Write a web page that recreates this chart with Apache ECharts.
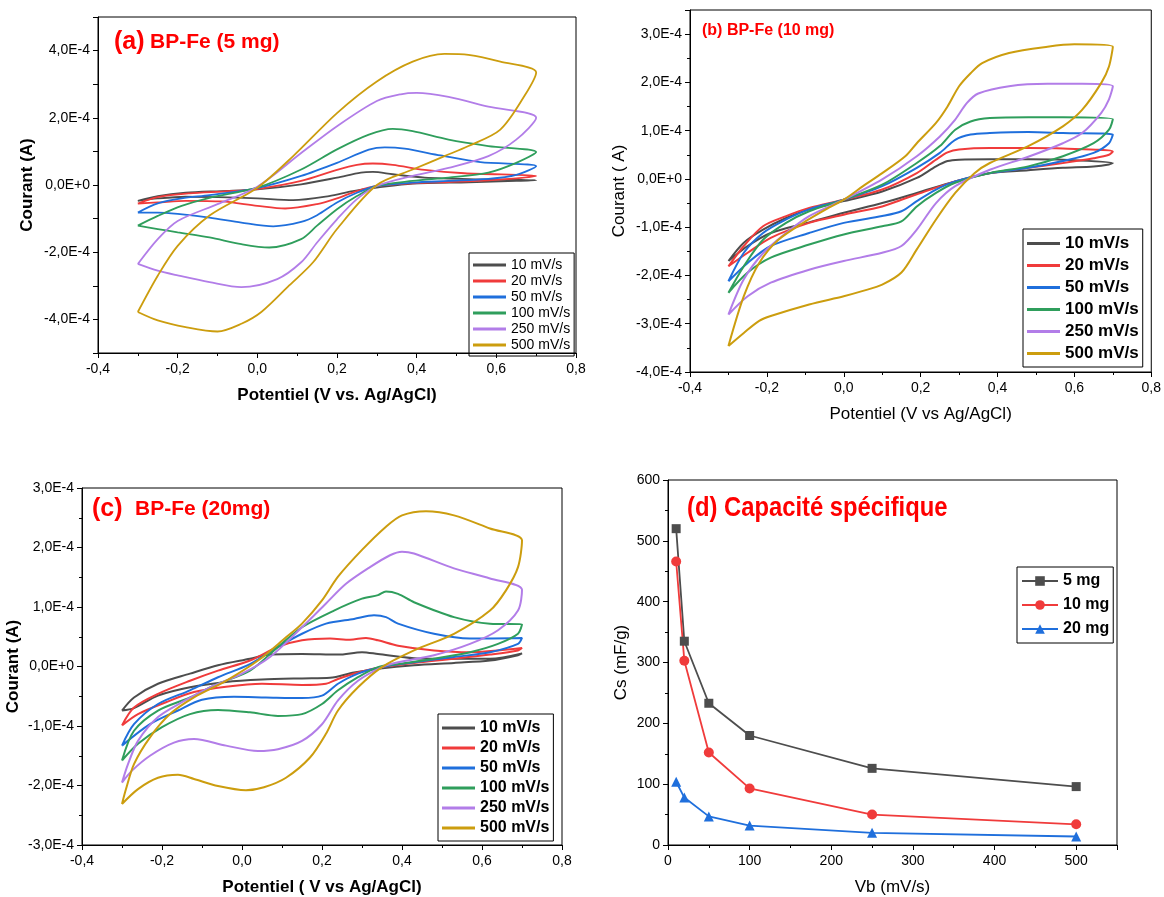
<!DOCTYPE html>
<html>
<head>
<meta charset="utf-8">
<script src="https://cdn.jsdelivr.net/npm/echarts@6/dist/echarts.min.js"></script>
<style>
html, body { margin: 0; padding: 0; background: #fff; }
#chart { width: 1164px; height: 897px; }
</style>
</head>
<body>
<div id="chart"></div>
<script>
// legend names and colours of the scan rates
const rates = ['10 mV/s', '20 mV/s', '50 mV/s', '100 mV/s', '250 mV/s', '500 mV/s']
const rateColors = ['#4d4d4d', '#f03b3b', '#1f6fdc', '#2f9e5c', '#b27de8', '#cc9d0e']

// CV loops: [potential (V vs Ag/AgCl), current in 1E-4 A]
// (a) BP-Fe 5 mg
const a10 = [[-0.30,-0.47],[-0.25,-0.33],[-0.18,-0.23],[-0.09,-0.18],[0.0,-0.13],[0.11,0.02],[0.2,0.22],[0.26,0.37],[0.29,0.39],[0.34,0.32],[0.42,0.22],[0.56,0.17],[0.70,0.14],
  [0.65,0.12],[0.53,0.08],[0.39,0.04],[0.30,-0.08],[0.24,-0.18],[0.18,-0.33],[0.09,-0.45],[0.0,-0.40],[-0.10,-0.36],[-0.18,-0.35],[-0.25,-0.40],[-0.30,-0.47]]
const a20 = [[-0.30,-0.55],[-0.25,-0.36],[-0.17,-0.25],[-0.08,-0.19],[0.0,-0.12],[0.11,0.12],[0.2,0.45],[0.25,0.60],[0.29,0.64],[0.34,0.60],[0.42,0.45],[0.52,0.35],[0.70,0.27],
  [0.65,0.20],[0.58,0.14],[0.48,0.09],[0.39,0.05],[0.30,-0.03],[0.25,-0.18],[0.20,-0.40],[0.15,-0.57],[0.07,-0.70],[0.0,-0.62],[-0.09,-0.49],[-0.18,-0.47],[-0.25,-0.52],[-0.30,-0.55]]
const a50 = [[-0.30,-0.82],[-0.25,-0.55],[-0.19,-0.40],[-0.12,-0.30],[0.0,-0.09],[0.11,0.27],[0.2,0.66],[0.28,1.05],[0.32,1.12],[0.37,1.08],[0.46,0.88],[0.56,0.68],[0.70,0.56],
  [0.65,0.30],[0.58,0.18],[0.48,0.12],[0.39,0.07],[0.30,-0.03],[0.25,-0.23],[0.20,-0.52],[0.15,-0.90],[0.11,-1.10],[0.04,-1.23],[-0.04,-1.12],[-0.12,-0.97],[-0.20,-0.86],[-0.25,-0.82],[-0.30,-0.82]]
const a100 = [[-0.30,-1.21],[-0.25,-0.92],[-0.19,-0.62],[-0.12,-0.38],[0.0,-0.08],[0.11,0.46],[0.2,1.06],[0.28,1.50],[0.34,1.67],[0.39,1.60],[0.48,1.35],[0.58,1.16],[0.70,0.98],
  [0.65,0.66],[0.58,0.37],[0.48,0.22],[0.39,0.12],[0.30,-0.03],[0.25,-0.33],[0.20,-0.72],[0.15,-1.21],[0.11,-1.61],[0.03,-1.86],[-0.04,-1.76],[-0.12,-1.56],[-0.20,-1.41],[-0.25,-1.31],[-0.30,-1.21]]
const a250 = [[-0.30,-2.35],[-0.25,-1.61],[-0.20,-1.07],[-0.10,-0.57],[0.0,-0.05],[0.11,0.95],[0.2,1.75],[0.30,2.50],[0.36,2.70],[0.40,2.74],[0.48,2.62],[0.58,2.33],[0.70,2.0],
  [0.65,1.35],[0.58,0.86],[0.48,0.51],[0.39,0.27],[0.30,-0.03],[0.25,-0.42],[0.20,-1.02],[0.15,-1.71],[0.11,-2.30],[0.05,-2.80],[-0.04,-3.04],[-0.12,-2.89],[-0.20,-2.69],[-0.25,-2.55],[-0.30,-2.35]]
const a500 = [[-0.30,-3.78],[-0.25,-2.70],[-0.20,-1.81],[-0.12,-0.91],[0.0,-0.08],[0.09,0.86],[0.20,2.14],[0.30,3.08],[0.39,3.67],[0.47,3.90],[0.53,3.87],[0.61,3.67],[0.70,3.35],
  [0.67,2.64],[0.61,1.65],[0.53,1.16],[0.47,0.86],[0.39,0.46],[0.30,0.0],[0.20,-1.31],[0.14,-2.30],[0.08,-2.99],[0.01,-3.78],[-0.04,-4.13],[-0.10,-4.36],[-0.18,-4.23],[-0.25,-4.03],[-0.30,-3.78]]

// (b) BP-Fe 10 mg
const b10 = [[-0.30,-1.70],[-0.26,-1.32],[-0.21,-1.05],[-0.15,-0.81],[-0.09,-0.63],[0.0,-0.46],[0.10,-0.26],[0.19,0.02],[0.24,0.26],[0.27,0.37],[0.30,0.40],[0.38,0.41],[0.48,0.41],[0.57,0.40],[0.70,0.33],
  [0.69,0.30],[0.65,0.26],[0.57,0.23],[0.48,0.18],[0.38,0.12],[0.29,-0.05],[0.19,-0.29],[0.10,-0.50],[0.0,-0.70],[-0.09,-0.90],[-0.19,-1.12],[-0.25,-1.39],[-0.30,-1.70]]
const b20 = [[-0.30,-1.81],[-0.26,-1.39],[-0.21,-0.98],[-0.15,-0.77],[-0.09,-0.60],[0.0,-0.43],[0.10,-0.22],[0.19,0.12],[0.24,0.40],[0.27,0.55],[0.30,0.61],[0.38,0.64],[0.48,0.64],[0.57,0.63],[0.70,0.57],
  [0.69,0.50],[0.65,0.43],[0.57,0.33],[0.48,0.23],[0.38,0.12],[0.29,-0.05],[0.19,-0.32],[0.15,-0.43],[0.10,-0.57],[0.0,-0.74],[-0.09,-0.91],[-0.19,-1.22],[-0.25,-1.53],[-0.30,-1.81]]
const b50 = [[-0.30,-2.12],[-0.26,-1.53],[-0.21,-1.12],[-0.15,-0.84],[-0.09,-0.63],[0.0,-0.43],[0.10,-0.15],[0.19,0.23],[0.25,0.54],[0.29,0.81],[0.33,0.92],[0.38,0.95],[0.48,0.97],[0.57,0.95],[0.70,0.92],
  [0.69,0.74],[0.65,0.54],[0.57,0.37],[0.48,0.23],[0.38,0.12],[0.29,-0.05],[0.24,-0.22],[0.19,-0.46],[0.15,-0.67],[0.10,-0.77],[0.0,-0.91],[-0.09,-1.12],[-0.19,-1.39],[-0.25,-1.74],[-0.30,-2.12]]
const b100 = [[-0.30,-2.36],[-0.26,-1.81],[-0.21,-1.26],[-0.15,-0.91],[-0.09,-0.67],[0.0,-0.43],[0.10,-0.12],[0.19,0.33],[0.25,0.68],[0.29,1.02],[0.33,1.19],[0.38,1.26],[0.48,1.28],[0.57,1.28],[0.70,1.24],
  [0.69,1.02],[0.65,0.74],[0.57,0.47],[0.48,0.26],[0.38,0.12],[0.29,-0.08],[0.24,-0.29],[0.19,-0.57],[0.15,-0.88],[0.10,-0.98],[0.0,-1.15],[-0.09,-1.36],[-0.19,-1.63],[-0.25,-1.94],[-0.30,-2.36]]
const b250 = [[-0.30,-2.81],[-0.26,-2.08],[-0.21,-1.54],[-0.15,-1.12],[-0.09,-0.77],[0.0,-0.43],[0.10,-0.01],[0.19,0.47],[0.25,0.88],[0.29,1.23],[0.32,1.57],[0.35,1.77],[0.43,1.92],[0.53,1.97],[0.62,1.97],[0.70,1.92],
  [0.69,1.65],[0.67,1.37],[0.62,0.95],[0.57,0.74],[0.48,0.46],[0.38,0.19],[0.29,-0.15],[0.24,-0.50],[0.19,-1.05],[0.15,-1.39],[0.10,-1.53],[0.0,-1.70],[-0.09,-1.88],[-0.19,-2.15],[-0.25,-2.43],[-0.30,-2.81]]
const b500 = [[-0.30,-3.46],[-0.26,-2.43],[-0.22,-1.74],[-0.17,-1.26],[-0.10,-0.88],[-0.04,-0.60],[0.0,-0.43],[0.05,-0.15],[0.10,0.12],[0.16,0.47],[0.19,0.74],[0.24,1.16],[0.27,1.50],[0.30,1.92],[0.33,2.19],[0.36,2.40],[0.43,2.61],[0.53,2.74],[0.60,2.79],[0.70,2.74],
  [0.69,2.33],[0.67,1.99],[0.62,1.43],[0.57,1.09],[0.48,0.68],[0.38,0.33],[0.34,0.12],[0.29,-0.29],[0.24,-0.84],[0.19,-1.46],[0.15,-1.94],[0.10,-2.19],[0.05,-2.32],[0.0,-2.43],[-0.09,-2.60],[-0.19,-2.84],[-0.22,-2.94],[-0.26,-3.19],[-0.30,-3.46]]

// (c) BP-Fe 20 mg
const c10 = [[-0.30,-0.74],[-0.27,-0.52],[-0.21,-0.29],[-0.13,-0.12],[-0.06,0.02],[0.02,0.13],[0.07,0.20],[0.15,0.21],[0.24,0.20],[0.30,0.24],[0.34,0.21],[0.43,0.14],[0.53,0.13],[0.62,0.13],[0.70,0.22],
  [0.69,0.19],[0.62,0.10],[0.53,0.06],[0.43,0.02],[0.34,-0.04],[0.28,-0.10],[0.22,-0.19],[0.15,-0.20],[0.05,-0.22],[-0.04,-0.26],[-0.13,-0.35],[-0.21,-0.49],[-0.27,-0.70],[-0.30,-0.74]]
const c20 = [[-0.30,-0.99],[-0.27,-0.69],[-0.21,-0.46],[-0.13,-0.24],[-0.06,-0.07],[0.02,0.10],[0.09,0.33],[0.15,0.44],[0.22,0.47],[0.27,0.45],[0.31,0.48],[0.34,0.44],[0.39,0.35],[0.48,0.27],[0.57,0.24],[0.70,0.31],
  [0.69,0.27],[0.62,0.20],[0.53,0.13],[0.43,0.06],[0.35,-0.01],[0.29,-0.10],[0.24,-0.21],[0.21,-0.29],[0.15,-0.31],[0.05,-0.29],[-0.04,-0.34],[-0.12,-0.43],[-0.19,-0.60],[-0.26,-0.80],[-0.30,-0.99]]
const c50 = [[-0.30,-1.33],[-0.27,-0.97],[-0.21,-0.63],[-0.13,-0.40],[-0.06,-0.18],[0.02,0.04],[0.09,0.33],[0.15,0.55],[0.21,0.72],[0.28,0.80],[0.33,0.86],[0.36,0.83],[0.39,0.72],[0.48,0.55],[0.57,0.47],[0.70,0.48],
  [0.69,0.38],[0.62,0.24],[0.53,0.16],[0.43,0.07],[0.35,-0.01],[0.29,-0.12],[0.24,-0.29],[0.20,-0.49],[0.15,-0.53],[0.06,-0.52],[-0.02,-0.51],[-0.10,-0.56],[-0.16,-0.74],[-0.23,-0.97],[-0.30,-1.33]]
const c100 = [[-0.30,-1.58],[-0.27,-1.08],[-0.21,-0.74],[-0.13,-0.52],[-0.06,-0.29],[0.02,-0.07],[0.09,0.33],[0.15,0.66],[0.23,0.94],[0.30,1.14],[0.34,1.20],[0.36,1.26],[0.39,1.22],[0.43,1.08],[0.53,0.83],[0.62,0.72],[0.70,0.71],
  [0.69,0.55],[0.64,0.38],[0.57,0.24],[0.48,0.13],[0.39,0.04],[0.34,-0.01],[0.29,-0.18],[0.24,-0.40],[0.20,-0.63],[0.15,-0.80],[0.09,-0.83],[0.02,-0.77],[-0.06,-0.73],[-0.13,-0.80],[-0.20,-1.02],[-0.26,-1.30],[-0.30,-1.58]]
const c250 = [[-0.30,-1.95],[-0.285,-1.64],[-0.26,-1.25],[-0.21,-0.85],[-0.15,-0.60],[-0.08,-0.35],[0.0,-0.12],[0.07,0.16],[0.15,0.66],[0.21,1.06],[0.26,1.39],[0.32,1.67],[0.37,1.87],[0.40,1.93],[0.43,1.90],[0.53,1.65],[0.62,1.48],[0.70,1.29],
  [0.69,0.94],[0.64,0.61],[0.57,0.38],[0.48,0.19],[0.39,0.07],[0.35,-0.01],[0.29,-0.24],[0.24,-0.57],[0.20,-0.97],[0.15,-1.25],[0.09,-1.39],[0.04,-1.42],[-0.04,-1.33],[-0.12,-1.22],[-0.17,-1.28],[-0.23,-1.50],[-0.275,-1.75],[-0.30,-1.95]]
const c500 = [[-0.30,-2.31],[-0.29,-2.06],[-0.27,-1.64],[-0.23,-1.19],[-0.18,-0.80],[-0.12,-0.52],[-0.04,-0.24],[0.04,0.10],[0.11,0.49],[0.15,0.72],[0.20,1.11],[0.24,1.51],[0.30,1.96],[0.36,2.35],[0.40,2.54],[0.46,2.61],[0.53,2.54],[0.62,2.32],[0.70,2.12],
  [0.69,1.67],[0.66,1.28],[0.62,0.94],[0.53,0.55],[0.43,0.27],[0.35,-0.01],[0.29,-0.35],[0.24,-0.74],[0.21,-1.13],[0.17,-1.53],[0.11,-1.87],[0.055,-2.03],[0.01,-2.08],[-0.06,-2.01],[-0.12,-1.89],[-0.16,-1.82],[-0.21,-1.87],[-0.26,-2.06],[-0.30,-2.31]]

// (d) specific capacitance
const scanRates = [10, 20, 50, 100, 250, 500]
const cs5 = [520, 335, 233, 180, 126, 96]
const cs10 = [466, 303, 152, 93, 50, 34]
const cs20 = [104, 78, 47, 32, 20, 14]

const FONT = '"Liberation Sans", Arial, sans-serif'
const chart = echarts.init(document.getElementById('chart'), null, { renderer: 'canvas' })

const potLabel = v => v.toFixed(1).replace('.', ',')
const curLabel = v => {
  const k = Math.round(v * 10) / 10
  if (Math.abs(k) < 1e-9) return '0,0E+0'
  return k.toFixed(1).replace('.', ',') + 'E-4'
}

const axisLine = { onZero: false, lineStyle: { color: '#000', width: 1 } }
const axisTick = { length: 5, lineStyle: { color: '#000' } }
const minorTick = { show: true, splitNumber: 2, length: 3, lineStyle: { color: '#000' } }

function cvAxes (idx, yMin, yMax, evenOnly, boldName, xName, yName, yGap) {
  const common = {
    gridIndex: idx,
    type: 'value',
    splitLine: { show: false },
    axisLine, axisTick,
    axisLabel: { color: '#000', fontSize: 14, fontFamily: FONT },
    nameLocation: 'middle',
    nameTextStyle: { color: '#000', fontSize: 17, fontFamily: FONT, fontWeight: boldName ? 'bold' : 'normal' }
  }
  const x = Object.assign({}, common, {
    min: -0.4, max: 0.8, interval: 0.2,
    name: xName, nameGap: 34,
    minorTick,
    axisLabel: Object.assign({}, common.axisLabel, { formatter: potLabel, margin: 9 })
  })
  const y = Object.assign({}, common, {
    min: yMin, max: yMax, interval: 1,
    name: yName, nameGap: yGap,
    minorTick: Object.assign({}, minorTick, { show: !evenOnly }),
    axisLabel: Object.assign({}, common.axisLabel, {
      showMaxLabel: Number.isInteger(yMax),
      formatter: v => (evenOnly && Math.round(v) % 2 !== 0) ? '' : curLabel(v)
    })
  })
  return [x, y]
}

const axA = cvAxes(0, -5, 5, true, true, 'Potentiel (V vs. Ag/AgCl)', 'Courant (A)', 62)
const axB = cvAxes(1, -4, 3.5, false, false, 'Potentiel (V vs Ag/AgCl)', 'Courant ( A)', 62)
const axC = cvAxes(2, -3, 3, false, true, 'Potentiel ( V vs Ag/AgCl)', 'Courant (A)', 60)

const cvSets = [
  [a10, a20, a50, a100, a250, a500],
  [b10, b20, b50, b100, b250, b500],
  [c10, c20, c50, c100, c250, c500]
]
const cvWidths = [1.8, 2, 2]

const series = []
cvSets.forEach((set, g) => {
  set.forEach((pts, i) => {
    series.push({
      type: 'line',
      name: rates[i],
      xAxisIndex: g,
      yAxisIndex: g,
      data: pts,
      symbol: 'none',
      smooth: 0.3,
      lineStyle: { color: rateColors[i], width: cvWidths[g] },
      itemStyle: { color: rateColors[i] }
    })
  })
})

const csSets = [
  ['5 mg', cs5, '#4d4d4d', 'rect', 9],
  ['10 mg', cs10, '#f03b3b', 'circle', 10],
  ['20 mg', cs20, '#1f6fdc', 'triangle', 10]
]
csSets.forEach(([name, vals, color, symbol, size]) => {
  series.push({
    type: 'line',
    name,
    xAxisIndex: 3,
    yAxisIndex: 3,
    data: scanRates.map((r, i) => [r, vals[i]]),
    symbol,
    symbolSize: size,
    lineStyle: { color, width: 1.8 },
    itemStyle: { color }
  })
})

const gridBox = { show: true, borderColor: '#000', borderWidth: 1, containLabel: false }

function cvLegend (left, top, fontSize, bold, gap, padding) {
  return {
    data: rates,
    orient: 'vertical',
    left, top,
    icon: 'rect',
    itemWidth: 33, itemHeight: 3,
    itemGap: gap,
    padding,
    borderColor: '#000', borderWidth: 1,
    textStyle: { color: '#000', fontSize, fontFamily: FONT, fontWeight: bold ? 'bold' : 'normal' }
  }
}

const redTitle = (x, y, text, size, squeeze) => ({
  type: 'text', x, y,
  scaleX: squeeze || 1,
  style: { text, fill: '#ff0000', font: 'bold ' + size + 'px ' + FONT, textVerticalAlign: 'middle' }
})

chart.setOption({
  animation: false,
  backgroundColor: '#fff',
  grid: [
    Object.assign({ left: 98, top: 17, width: 478, height: 336 }, gridBox),
    Object.assign({ left: 690, top: 10, width: 464, height: 362 }, gridBox),
    Object.assign({ left: 82, top: 488, width: 480, height: 357 }, gridBox),
    Object.assign({ left: 668, top: 480, width: 449, height: 366 }, gridBox)
  ],
  xAxis: [axA[0], axB[0], axC[0], {
    gridIndex: 3, type: 'value', min: 0, max: 550, interval: 100,
    splitLine: { show: false },
    axisLine, axisTick, minorTick,
    axisLabel: { color: '#000', fontSize: 14, fontFamily: FONT, margin: 9, showMaxLabel: false },
    name: 'Vb (mV/s)', nameLocation: 'middle', nameGap: 34,
    nameTextStyle: { color: '#000', fontSize: 17, fontFamily: FONT }
  }],
  yAxis: [axA[1], axB[1], axC[1], {
    gridIndex: 3, type: 'value', min: 0, max: 600, interval: 100,
    splitLine: { show: false },
    axisLine, axisTick, minorTick,
    axisLabel: { color: '#000', fontSize: 14, fontFamily: FONT },
    name: 'Cs (mF/g)', nameLocation: 'middle', nameGap: 38,
    nameTextStyle: { color: '#000', fontSize: 17, fontFamily: FONT }
  }],
  legend: [
    cvLegend(469, 253, 14, false, 2, [5, 4, 4, 4]),
    cvLegend(1023, 229, 17, true, 5, [6, 4, 5, 4]),
    cvLegend(438, 714, 16, true, 4, [6, 4, 5, 4]),
    {
      data: ['5 mg', '10 mg', '20 mg'],
      orient: 'vertical',
      left: 1017, top: 567,
      itemWidth: 36, itemHeight: 12, itemGap: 8,
      padding: [6, 4, 6, 4],
      borderColor: '#000', borderWidth: 1,
      textStyle: { color: '#000', fontSize: 16, fontFamily: FONT, fontWeight: 'bold' }
    }
  ],
  graphic: [
    redTitle(114, 42, '(a)', 25),
    redTitle(150, 42, 'BP-Fe (5 mg)', 21),
    redTitle(702, 31, '(b) BP-Fe (10 mg)', 16),
    redTitle(92, 509, '(c)', 25),
    redTitle(135, 509, 'BP-Fe (20mg)', 21),
    redTitle(687, 508, '(d) Capacité spécifique', 28, 0.85)
  ],
  series
})
</script>
</body>
</html>
